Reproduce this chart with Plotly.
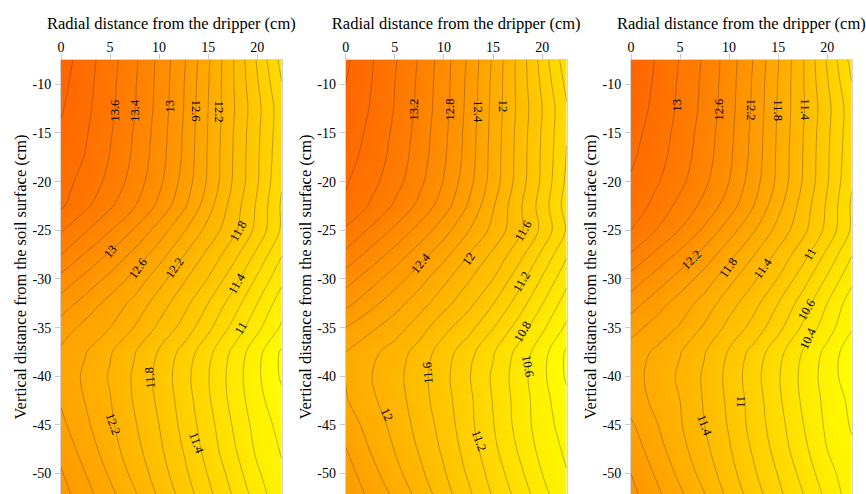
import plotly.graph_objects as go

# ---------------- data ----------------
RADIAL_CM = [0, 2.5, 5, 7.5, 10, 12.5, 15, 17.5, 20, 22.5]
DEPTH_CM = [-7.5, -10, -12.5, -15, -17.5, -20, -22.5, -25, -27.5, -30,
            -32.5, -35, -37.5, -40, -42.5, -45, -47.5, -50, -52.5]

# panel 1 values (rows follow DEPTH_CM, columns follow RADIAL_CM)
PANEL1 = [
    [14.10, 13.89, 13.68, 13.44, 13.15, 12.83, 12.43, 12.02, 11.58, 11.13],
    [14.06, 13.87, 13.66, 13.42, 13.14, 12.81, 12.41, 12.02, 11.62, 11.21],
    [14.02, 13.85, 13.65, 13.41, 13.13, 12.80, 12.40, 12.03, 11.66, 11.28],
    [13.97, 13.82, 13.62, 13.38, 13.11, 12.78, 12.39, 12.01, 11.64, 11.27],
    [13.93, 13.79, 13.59, 13.36, 13.09, 12.77, 12.38, 12.00, 11.63, 11.25],
    [13.88, 13.73, 13.54, 13.31, 13.05, 12.73, 12.37, 11.99, 11.62, 11.22],
    [13.83, 13.64, 13.43, 13.21, 12.95, 12.64, 12.28, 11.92, 11.57, 11.17],
    [13.62, 13.42, 13.21, 12.98, 12.71, 12.42, 12.13, 11.86, 11.54, 11.17],
    [13.40, 13.18, 12.97, 12.74, 12.49, 12.21, 11.95, 11.68, 11.35, 11.01],
    [13.14, 12.94, 12.74, 12.53, 12.28, 12.03, 11.79, 11.49, 11.17, 10.85],
    [12.91, 12.72, 12.53, 12.34, 12.10, 11.87, 11.60, 11.31, 11.00, 10.69],
    [12.70, 12.54, 12.40, 12.19, 11.96, 11.73, 11.45, 11.15, 10.85, 10.57],
    [12.56, 12.41, 12.22, 12.01, 11.78, 11.53, 11.26, 10.96, 10.67, 10.37],
    [12.55, 12.36, 12.18, 11.97, 11.74, 11.48, 11.21, 10.92, 10.64, 10.37],
    [12.58, 12.39, 12.21, 11.98, 11.76, 11.51, 11.23, 10.94, 10.67, 10.45],
    [12.65, 12.44, 12.24, 12.02, 11.80, 11.54, 11.28, 10.99, 10.72, 10.53],
    [12.74, 12.51, 12.29, 12.07, 11.84, 11.59, 11.32, 11.04, 10.76, 10.58],
    [12.82, 12.60, 12.37, 12.14, 11.90, 11.65, 11.39, 11.12, 10.83, 10.63],
    [12.89, 12.69, 12.47, 12.24, 11.98, 11.73, 11.46, 11.20, 10.92, 10.65],
]

PANEL2 = [
    [13.84, 13.63, 13.42, 13.18, 12.89, 12.57, 12.17, 11.76, 11.32, 10.87],
    [13.80, 13.61, 13.40, 13.16, 12.88, 12.55, 12.15, 11.76, 11.36, 10.95],
    [13.76, 13.59, 13.39, 13.15, 12.87, 12.54, 12.14, 11.77, 11.40, 11.02],
    [13.71, 13.56, 13.36, 13.12, 12.85, 12.52, 12.13, 11.75, 11.38, 11.01],
    [13.67, 13.53, 13.33, 13.10, 12.83, 12.51, 12.12, 11.74, 11.37, 10.99],
    [13.62, 13.47, 13.28, 13.05, 12.79, 12.47, 12.11, 11.73, 11.36, 10.96],
    [13.57, 13.38, 13.17, 12.95, 12.69, 12.38, 12.02, 11.66, 11.31, 10.91],
    [13.37, 13.17, 12.96, 12.73, 12.48, 12.21, 11.94, 11.67, 11.35, 10.98],
    [13.15, 12.93, 12.72, 12.49, 12.26, 12.00, 11.76, 11.49, 11.16, 10.82],
    [12.89, 12.69, 12.49, 12.28, 12.05, 11.82, 11.60, 11.30, 10.98, 10.66],
    [12.66, 12.47, 12.28, 12.09, 11.87, 11.66, 11.41, 11.12, 10.81, 10.50],
    [12.40, 12.24, 12.10, 11.89, 11.66, 11.47, 11.21, 10.93, 10.64, 10.36],
    [12.20, 12.06, 11.91, 11.72, 11.50, 11.27, 11.02, 10.75, 10.48, 10.17],
    [12.19, 12.01, 11.87, 11.68, 11.46, 11.22, 10.97, 10.71, 10.45, 10.17],
    [12.22, 12.04, 11.90, 11.69, 11.48, 11.25, 10.99, 10.73, 10.48, 10.25],
    [12.32, 12.12, 11.94, 11.73, 11.52, 11.26, 11.01, 10.74, 10.49, 10.31],
    [12.41, 12.19, 11.99, 11.78, 11.56, 11.31, 11.05, 10.79, 10.53, 10.36],
    [12.49, 12.28, 12.07, 11.85, 11.62, 11.37, 11.12, 10.87, 10.60, 10.41],
    [12.56, 12.37, 12.17, 11.95, 11.70, 11.45, 11.19, 10.95, 10.69, 10.43],
]

PANEL3 = [
    [13.40, 13.19, 12.99, 12.77, 12.50, 12.19, 11.81, 11.42, 10.98, 10.53],
    [13.36, 13.17, 12.97, 12.75, 12.49, 12.17, 11.79, 11.42, 11.02, 10.61],
    [13.32, 13.15, 12.96, 12.74, 12.48, 12.16, 11.78, 11.43, 11.06, 10.68],
    [13.27, 13.12, 12.93, 12.71, 12.46, 12.14, 11.77, 11.41, 11.04, 10.67],
    [13.23, 13.09, 12.90, 12.69, 12.44, 12.13, 11.76, 11.40, 11.03, 10.65],
    [13.18, 13.03, 12.85, 12.64, 12.40, 12.09, 11.75, 11.39, 11.02, 10.62],
    [13.13, 12.94, 12.74, 12.54, 12.30, 12.00, 11.66, 11.32, 10.97, 10.57],
    [13.00, 12.80, 12.59, 12.36, 12.09, 11.82, 11.53, 11.26, 10.94, 10.57],
    [12.78, 12.56, 12.35, 12.12, 11.87, 11.61, 11.35, 11.08, 10.75, 10.41],
    [12.52, 12.32, 12.12, 11.91, 11.66, 11.43, 11.19, 10.89, 10.57, 10.25],
    [12.29, 12.10, 11.91, 11.72, 11.48, 11.27, 11.00, 10.71, 10.40, 10.09],
    [12.08, 11.92, 11.78, 11.57, 11.34, 11.13, 10.86, 10.57, 10.29, 10.02],
    [11.90, 11.77, 11.61, 11.41, 11.18, 10.93, 10.67, 10.39, 10.14, 9.87],
    [11.89, 11.72, 11.57, 11.37, 11.14, 10.88, 10.62, 10.35, 10.11, 9.87],
    [11.92, 11.75, 11.60, 11.38, 11.16, 10.91, 10.64, 10.37, 10.14, 9.95],
    [12.03, 11.82, 11.62, 11.40, 11.18, 10.92, 10.68, 10.41, 10.16, 9.98],
    [12.12, 11.89, 11.67, 11.45, 11.22, 10.97, 10.72, 10.46, 10.20, 10.03],
    [12.20, 11.98, 11.75, 11.52, 11.28, 11.03, 10.79, 10.54, 10.27, 10.08],
    [12.27, 12.07, 11.85, 11.62, 11.36, 11.11, 10.86, 10.62, 10.36, 10.10],
]

X_TICKS = [0, 5, 10, 15, 20]
Y_TICKS = [-10, -15, -20, -25, -30, -35, -40, -45, -50]
X_TITLE = "Radial distance from the dripper (cm)"
Y_TITLE = "Vertical distance from the soil surface (cm)"

# contour-label texts with their placement (x, y, angle)
LABELS1 = [("13.6", 5.5, -12.7, -90), ("13.4", 7.55, -12.7, -90), ("13", 11.1, -12.2, -90),
           ("12.6", 13.85, -12.7, 90), ("12.2", 16.2, -12.8, 90),
           ("13", 5.0, -27.2, -50), ("12.6", 7.9, -28.9, -55), ("12.2", 11.6, -28.9, -55),
           ("11.8", 18.1, -25.1, -60), ("11.4", 17.9, -30.5, -60), ("11", 18.3, -35.1, -60),
           ("11.8", 9.1, -40.2, -95), ("12.2", 5.3, -44.9, 70), ("11.4", 13.8, -46.9, 70)]
LABELS2 = [("13.2", 6.95, -12.6, -90), ("12.8", 10.6, -12.6, -90), ("12.4", 13.5, -12.8, 90),
           ("12", 16.0, -12.3, 90),
           ("12.4", 7.7, -28.4, -50), ("12", 12.5, -27.9, -55), ("11.6", 18.1, -25.1, -60),
           ("11.2", 17.9, -30.3, -60), ("10.8", 18.1, -35.4, -60), ("10.6", 18.6, -39.0, 80),
           ("11.6", 8.4, -39.7, -95), ("12", 4.2, -44.0, 65), ("11.2", 13.5, -46.6, 70)]
LABELS3 = [("13", 4.66, -12.1, -90), ("12.6", 8.97, -12.6, -90), ("12.2", 12.23, -12.6, 90),
           ("11.8", 15.0, -12.6, 90), ("11.4", 17.74, -12.6, 90),
           ("12.2", 6.19, -28.1, -45), ("11.8", 9.92, -28.9, -55), ("11.4", 13.5, -28.9, -55),
           ("11", 18.2, -27.5, -60), ("10.6", 17.9, -33.2, -60), ("10.4", 18.1, -36.1, -65),
           ("11", 11.3, -42.6, 90), ("11.4", 7.5, -45.0, 70)]

# ---------------- figure ----------------
FONT = "Liberation Serif, Times New Roman, serif"
COLORSCALE = [[0.0, "rgb(255,255,0)"], [1.0, "rgb(255,100,0)"]]
W, H = 866, 494
X_DOMAINS = [(61 / W, 281.7 / W), (345.7 / W, 566.7 / W), (631 / W, 851.7 / W)]
Y_DOMAIN = (0.0, 1 - 60 / H)

fig = go.Figure()
panels = [PANEL1, PANEL2, PANEL3]
labels = [LABELS1, LABELS2, LABELS3]
annotations = []
for i, (z, labs) in enumerate(zip(panels, labels)):
    sfx = "" if i == 0 else str(i + 1)
    flat = [v for row in z for v in row]
    fig.add_trace(go.Contour(
        x=RADIAL_CM, y=DEPTH_CM, z=z,
        xaxis="x" + sfx, yaxis="y" + sfx,
        colorscale=COLORSCALE, showscale=False,
        zauto=False, zmin=min(flat), zmax=max(flat),
        autocontour=False,
        contours=dict(start=8.0, end=16.0, size=0.2, coloring="heatmap", showlines=True),
        line=dict(color="rgba(70,55,20,0.5)", width=0.7, smoothing=1.0),
        hoverinfo="skip",
    ))
    for text, lx, ly, ang in labs:
        annotations.append(dict(
            x=lx, y=ly, xref="x" + sfx, yref="y" + sfx, text=text, textangle=ang,
            showarrow=False, font=dict(family=FONT, size=12.5, color="black"),
        ))

axis_common = dict(
    showgrid=False, zeroline=False, showline=True, mirror=True, automargin=False,
    linecolor="#d4d4d4", linewidth=1, ticks="outside", ticklen=5,
    tickcolor="#c8c8c8", tickwidth=1,
    tickfont=dict(family=FONT, size=14, color="black"),
)
layout = dict(
    width=W, height=H, margin=dict(l=0, r=0, t=0, b=0, pad=0, autoexpand=False),
    paper_bgcolor="white", plot_bgcolor="white", showlegend=False,
    annotations=annotations,
)
for i in range(3):
    sfx = "" if i == 0 else str(i + 1)
    layout["xaxis" + sfx] = dict(
        axis_common, domain=list(X_DOMAINS[i]), range=[0, 22.5], side="top",
        tickvals=X_TICKS, ticktext=[str(v) for v in X_TICKS], anchor="y" + sfx,
        ticklabelstandoff=-4,
        title=dict(text=X_TITLE, font=dict(family=FONT, size=16.5, color="black"), standoff=6),
    )
    layout["yaxis" + sfx] = dict(
        axis_common, domain=list(Y_DOMAIN), range=[-52.1, -7.5],
        tickvals=Y_TICKS, ticktext=[str(v) for v in Y_TICKS], anchor="x" + sfx,
        ticklabelstandoff=1,
        title=dict(text=Y_TITLE, font=dict(family=FONT, size=16.5, color="black"), standoff=1),
    )
fig.update_layout(**layout)
fig.write_html(
    "out.html",
    config={"displayModeBar": False},
    post_script="document.body.style.margin='0';document.body.style.overflow='hidden';",
)
